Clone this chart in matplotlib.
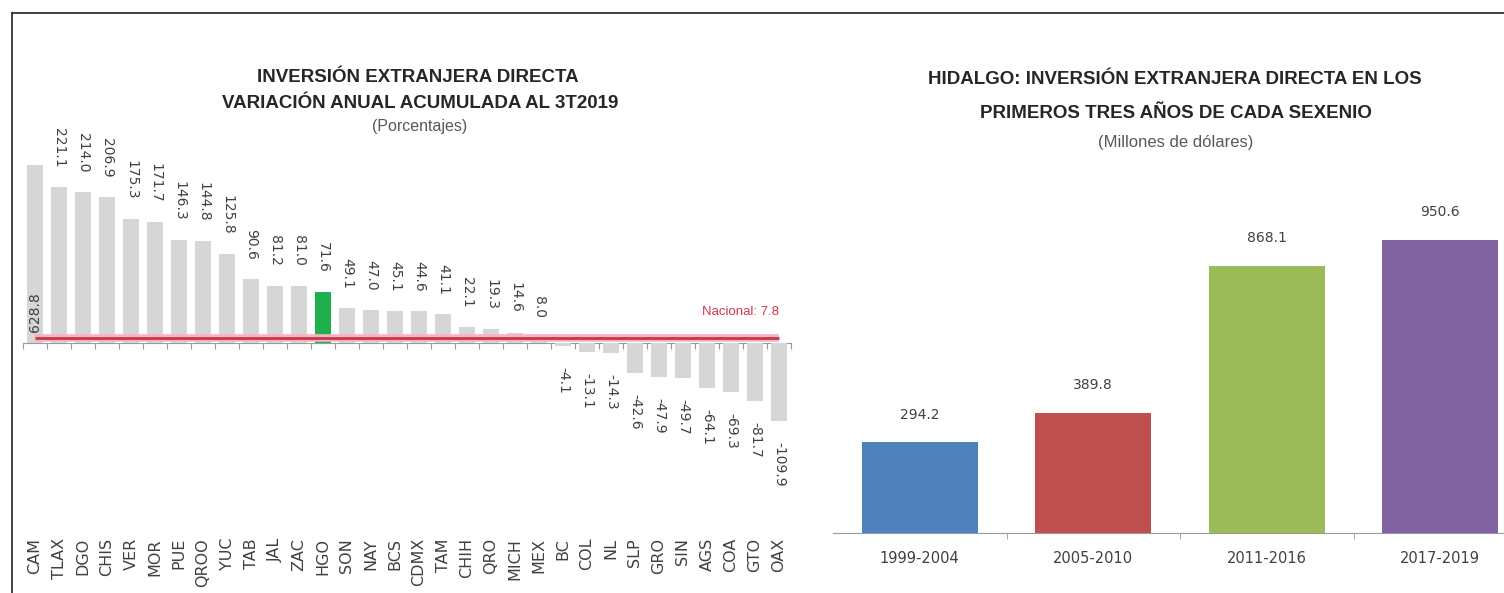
import numpy as np
import matplotlib.pyplot as plt
from matplotlib.lines import Line2D
import matplotlib.transforms as mtransforms

# estados: variacion anual acumulada de la IED al 3T2019 (%)
estados = ['CAM', 'TLAX', 'DGO', 'CHIS', 'VER', 'MOR', 'PUE', 'QROO', 'YUC', 'TAB',
           'JAL', 'ZAC', 'HGO', 'SON', 'NAY', 'BCS', 'CDMX', 'TAM', 'CHIH', 'QRO',
           'MICH', 'MEX', 'BC', 'COL', 'NL', 'SLP', 'GRO', 'SIN', 'AGS', 'COA',
           'GTO', 'OAX']
variacion = [628.8, 221.1, 214.0, 206.9, 175.3, 171.7, 146.3, 144.8, 125.8, 90.6,
             81.2, 81.0, 71.6, 49.1, 47.0, 45.1, 44.6, 41.1, 22.1, 19.3,
             14.6, 8.0, -4.1, -13.1, -14.3, -42.6, -47.9, -49.7, -64.1, -69.3,
             -81.7, -109.9]
nacional = 7.8

# Hidalgo: IED en los primeros tres anios de cada sexenio (millones de dolares)
sexenios = ['1999-2004', '2005-2010', '2011-2016', '2017-2019']
ied_hgo = [294.2, 389.8, 868.1, 950.6]
colores_hgo = ['#4f81bd', '#c0504d', '#9bbb59', '#8064a2']

W, H = 1504, 593
fig = plt.figure(figsize=(W / 100, H / 100), dpi=100)
fig.patch.set_facecolor('white')

titulo_font = ['Liberation Sans', 'DejaVu Sans']

# ---------------- grafica izquierda ----------------
ax1 = fig.add_axes([23 / W, (H - 538) / H, 768 / W, (538 - 165) / H])
x = np.arange(len(estados))
colores = ['#1db04d' if e == 'HGO' else '#d6d6d6' for e in estados]
ax1.bar(x, variacion, width=0.67, color=colores, zorder=2)
ax1.set_xlim(-0.5, len(estados) - 0.5)
ax1.set_ylim(-275.8, 251.8)

# linea nacional
ax1.plot(x, [nacional] * len(x), color='#f2b6bf', lw=5.5, solid_capstyle='butt', zorder=3)
ax1.plot(x, [nacional] * len(x), color='#c8344a', lw=2, solid_capstyle='butt', zorder=4)
ax1.annotate(f'Nacional: {nacional}', (x[-1], nacional), xytext=(0, 14),
             textcoords='offset points', ha='right', va='bottom',
             color='#d0384d', fontsize=9.5, family=titulo_font)

for xi, v in zip(x, variacion):
    if v > 300:
        # barra recortada: la etiqueta va dentro, junto a la base
        ax1.annotate(f'{v:.1f}', (xi, 0), xytext=(0, 8), textcoords='offset points',
                     rotation=90, ha='center', va='bottom', fontsize=10,
                     color='#404040', zorder=5)
    elif v >= 0:
        ax1.annotate(f'{v:.1f}', (xi, v), xytext=(0, 14), textcoords='offset points',
                     rotation=270, ha='center', va='bottom', fontsize=10,
                     color='#404040', annotation_clip=False)
    else:
        ax1.annotate(f'{v:.1f}', (xi, v), xytext=(0, -15), textcoords='offset points',
                     rotation=270, ha='center', va='top', fontsize=10,
                     color='#404040', annotation_clip=False)

trans = mtransforms.blended_transform_factory(ax1.transData, ax1.transAxes)
for xi, e in zip(x, estados):
    ax1.text(xi, 0, e, transform=trans, rotation=90, ha='center', va='top',
             fontsize=11.5, color='#404040')

for s in ['top', 'right', 'left']:
    ax1.spines[s].set_visible(False)
ax1.spines['bottom'].set_position(('data', 0))
ax1.spines['bottom'].set_color('#9a9a9a')
ax1.spines['bottom'].set_zorder(1)
ax1.set_yticks([])
ax1.set_xticks(np.arange(-0.5, len(estados), 1))
ax1.set_xticklabels([])
ax1.tick_params(axis='x', direction='out', length=4, color='#9a9a9a')
ax1.patch.set_visible(False)

fig.text(418 / W, 1 - 77 / H, 'INVERSIÓN EXTRANJERA DIRECTA', ha='center', va='center',
         fontsize=13.5, fontweight='bold', color='#262626', family=titulo_font)
fig.text(420 / W, 1 - 103 / H, 'VARIACIÓN ANUAL ACUMULADA AL 3T2019', ha='center',
         va='center', fontsize=13.5, fontweight='bold', color='#262626', family=titulo_font)
fig.text(420 / W, 1 - 126 / H, '(Porcentajes)', ha='center', va='center',
         fontsize=11.5, color='#595959', family=titulo_font)

# ---------------- grafica derecha ----------------
ax2 = fig.add_axes([833 / W, (H - 533) / H, 694 / W, 1100 * 0.308 / H])
xs = np.arange(len(sexenios))
ax2.bar(xs, ied_hgo, width=0.67, color=colores_hgo, zorder=2)
ax2.set_xlim(-0.5, len(sexenios) - 0.5)
ax2.set_ylim(0, 1100)
for xi, v in zip(xs, ied_hgo):
    ax2.annotate(f'{v:.1f}', (xi, v), xytext=(0, 15), textcoords='offset points',
                 ha='center', va='bottom', fontsize=10, color='#404040')

for s in ['top', 'right', 'left']:
    ax2.spines[s].set_visible(False)
ax2.spines['bottom'].set_color('#9a9a9a')
ax2.set_yticks([])
ax2.set_xticks(xs)
ax2.set_xticklabels(sexenios, fontsize=10.5, color='#404040')
ax2.tick_params(axis='x', which='major', length=0, pad=13)
ax2.set_xticks(xs[:-1] + 0.5, minor=True)
ax2.tick_params(axis='x', which='minor', direction='out', length=4, color='#9a9a9a')
ax2.patch.set_visible(False)

fig.text(1175 / W, 1 - 79 / H, 'HIDALGO: INVERSIÓN EXTRANJERA DIRECTA EN LOS', ha='center',
         va='center', fontsize=13.5, fontweight='bold', color='#262626', family=titulo_font)
fig.text(1176 / W, 1 - 113 / H, 'PRIMEROS TRES AÑOS DE CADA SEXENIO', ha='center',
         va='center', fontsize=13.5, fontweight='bold', color='#262626', family=titulo_font)
fig.text(1176 / W, 1 - 143 / H, '(Millones de dólares)', ha='center', va='center',
         fontsize=12, color='#595959', family=titulo_font)

# marco de la pagina
fig.add_artist(Line2D([12 / W, 12 / W], [0, 1 - 13 / H], color='#222222', lw=1.2))
fig.add_artist(Line2D([12 / W, 1], [1 - 13 / H, 1 - 13 / H], color='#222222', lw=1.2))

fig.savefig('out.png', dpi=100)
